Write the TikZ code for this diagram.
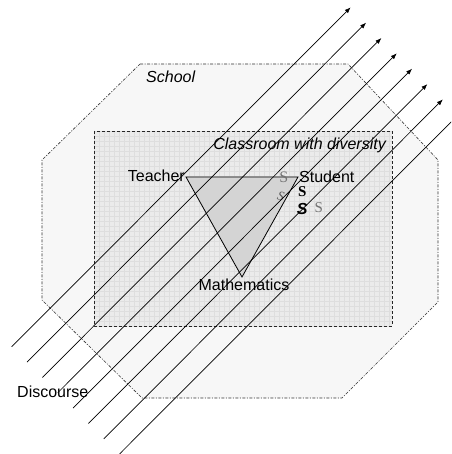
\documentclass[tikz,border=0pt]{standalone}
\usepackage{fontspec}
\setmainfont{Liberation Sans}
\newfontfamily\serifS{Liberation Serif}
\usetikzlibrary{arrows.meta}
\begin{document}
\begin{tikzpicture}[x=1pt,y=-1pt,
  lbl/.style={inner sep=0pt,font=\fontsize{16}{19}\selectfont},
  slbl/.style={inner sep=0pt,text height=9.5pt,text depth=0pt,font=\serifS\fontsize{16}{18}\selectfont},
  schoolzone/.style={draw=black!80,line width=0.6pt,fill=black!3,
    dash pattern=on 3pt off 1.5pt on 1pt off 1.5pt},
  classzone/.style={draw=black!85,line width=0.7pt,fill=black!8,
    dash pattern=on 3pt off 2pt},
  classgrid/.style={draw=black!13,line width=0.35pt},
  tri/.style={draw=black,line width=0.8pt,fill=black!17},
  flow/.style={draw=black,line width=0.7pt,-{Latex[length=6pt,width=4.5pt]}},
  flowcut/.style={draw=black,line width=0.7pt}]
\useasboundingbox (0,0) rectangle (451,454);
\clip (0,0) rectangle (451,454);

% School (octagon)
\draw[schoolzone] (140,64) -- (348,64) -- (438,160) -- (438,302) -- (342,398)
  -- (142,398) -- (42,300) -- (42,160) -- cycle;
% Classroom
\fill[black!8] (94,131) rectangle (392,326);
\begin{scope}
  \clip (94,131) rectangle (392,326);
  \foreach \i in {0,...,60}{
    \draw[classgrid] ({94+5*\i},131) -- ({94+5*\i},326);
  }
  \foreach \j in {0,...,40}{
    \draw[classgrid] (94,{131+5*\j}) -- (392,{131+5*\j});
  }
\end{scope}
\draw[classzone,fill=none] (94,131) rectangle (392,326);

% triangle
\coordinate (T) at (186,177);
\coordinate (St) at (298,177);
\coordinate (M) at (242,277);
\draw[tri] (T) -- (St) -- (M) -- cycle;

% labels
\node[lbl,anchor=base west,font=\fontsize{16}{19}\selectfont\itshape] (school) at (146,83) {School};
\node[lbl,anchor=base east,font=\fontsize{16}{19}\selectfont\itshape] (class) at (386,150) {Classroom with diversity};
\node[lbl,anchor=base east] (teacher) at (185,182) {Teacher};
\node[lbl,anchor=base west] (student) at (299,182.5) {Student};
\node[lbl,anchor=base] (math) at (244,290) {Mathematics};
\node[lbl,anchor=base west] (disc) at (17,397) {Discourse};

% S marks
\node[slbl,text=black!55] (s1) at (283.7,177.7) {S};
\node[slbl,font=\serifS\bfseries\fontsize{15}{17}\selectfont] (s2) at (302.3,191.5) {S};
\node[slbl,font=\serifS\itshape\fontsize{13}{15}\selectfont,text=black!65,rotate=-15] (s3) at (281,196) {S};
\node[slbl,font=\bfseries\itshape\fontsize{16}{18}\selectfont] (s4) at (302.3,209.3) {S};
\node[slbl,font=\serifS\fontsize{15}{17}\selectfont,text=black!55] (s5) at (318.7,207.7) {S};

% discourse flows
\foreach \k in {0,...,6}{
  \coordinate (a\k) at ({11.7+15.35*\k},{346.7+15.35*\k});
  \coordinate (b\k) at ({350.7+15.35*\k},{7.3+15.35*\k});
  \draw[flow] (a\k) -- (b\k);
}
\coordinate (a7) at (119.5,454);
\coordinate (b7) at (458.5,114.6);
\draw[flowcut] (a7) -- (b7);
\end{tikzpicture}
\end{document}
